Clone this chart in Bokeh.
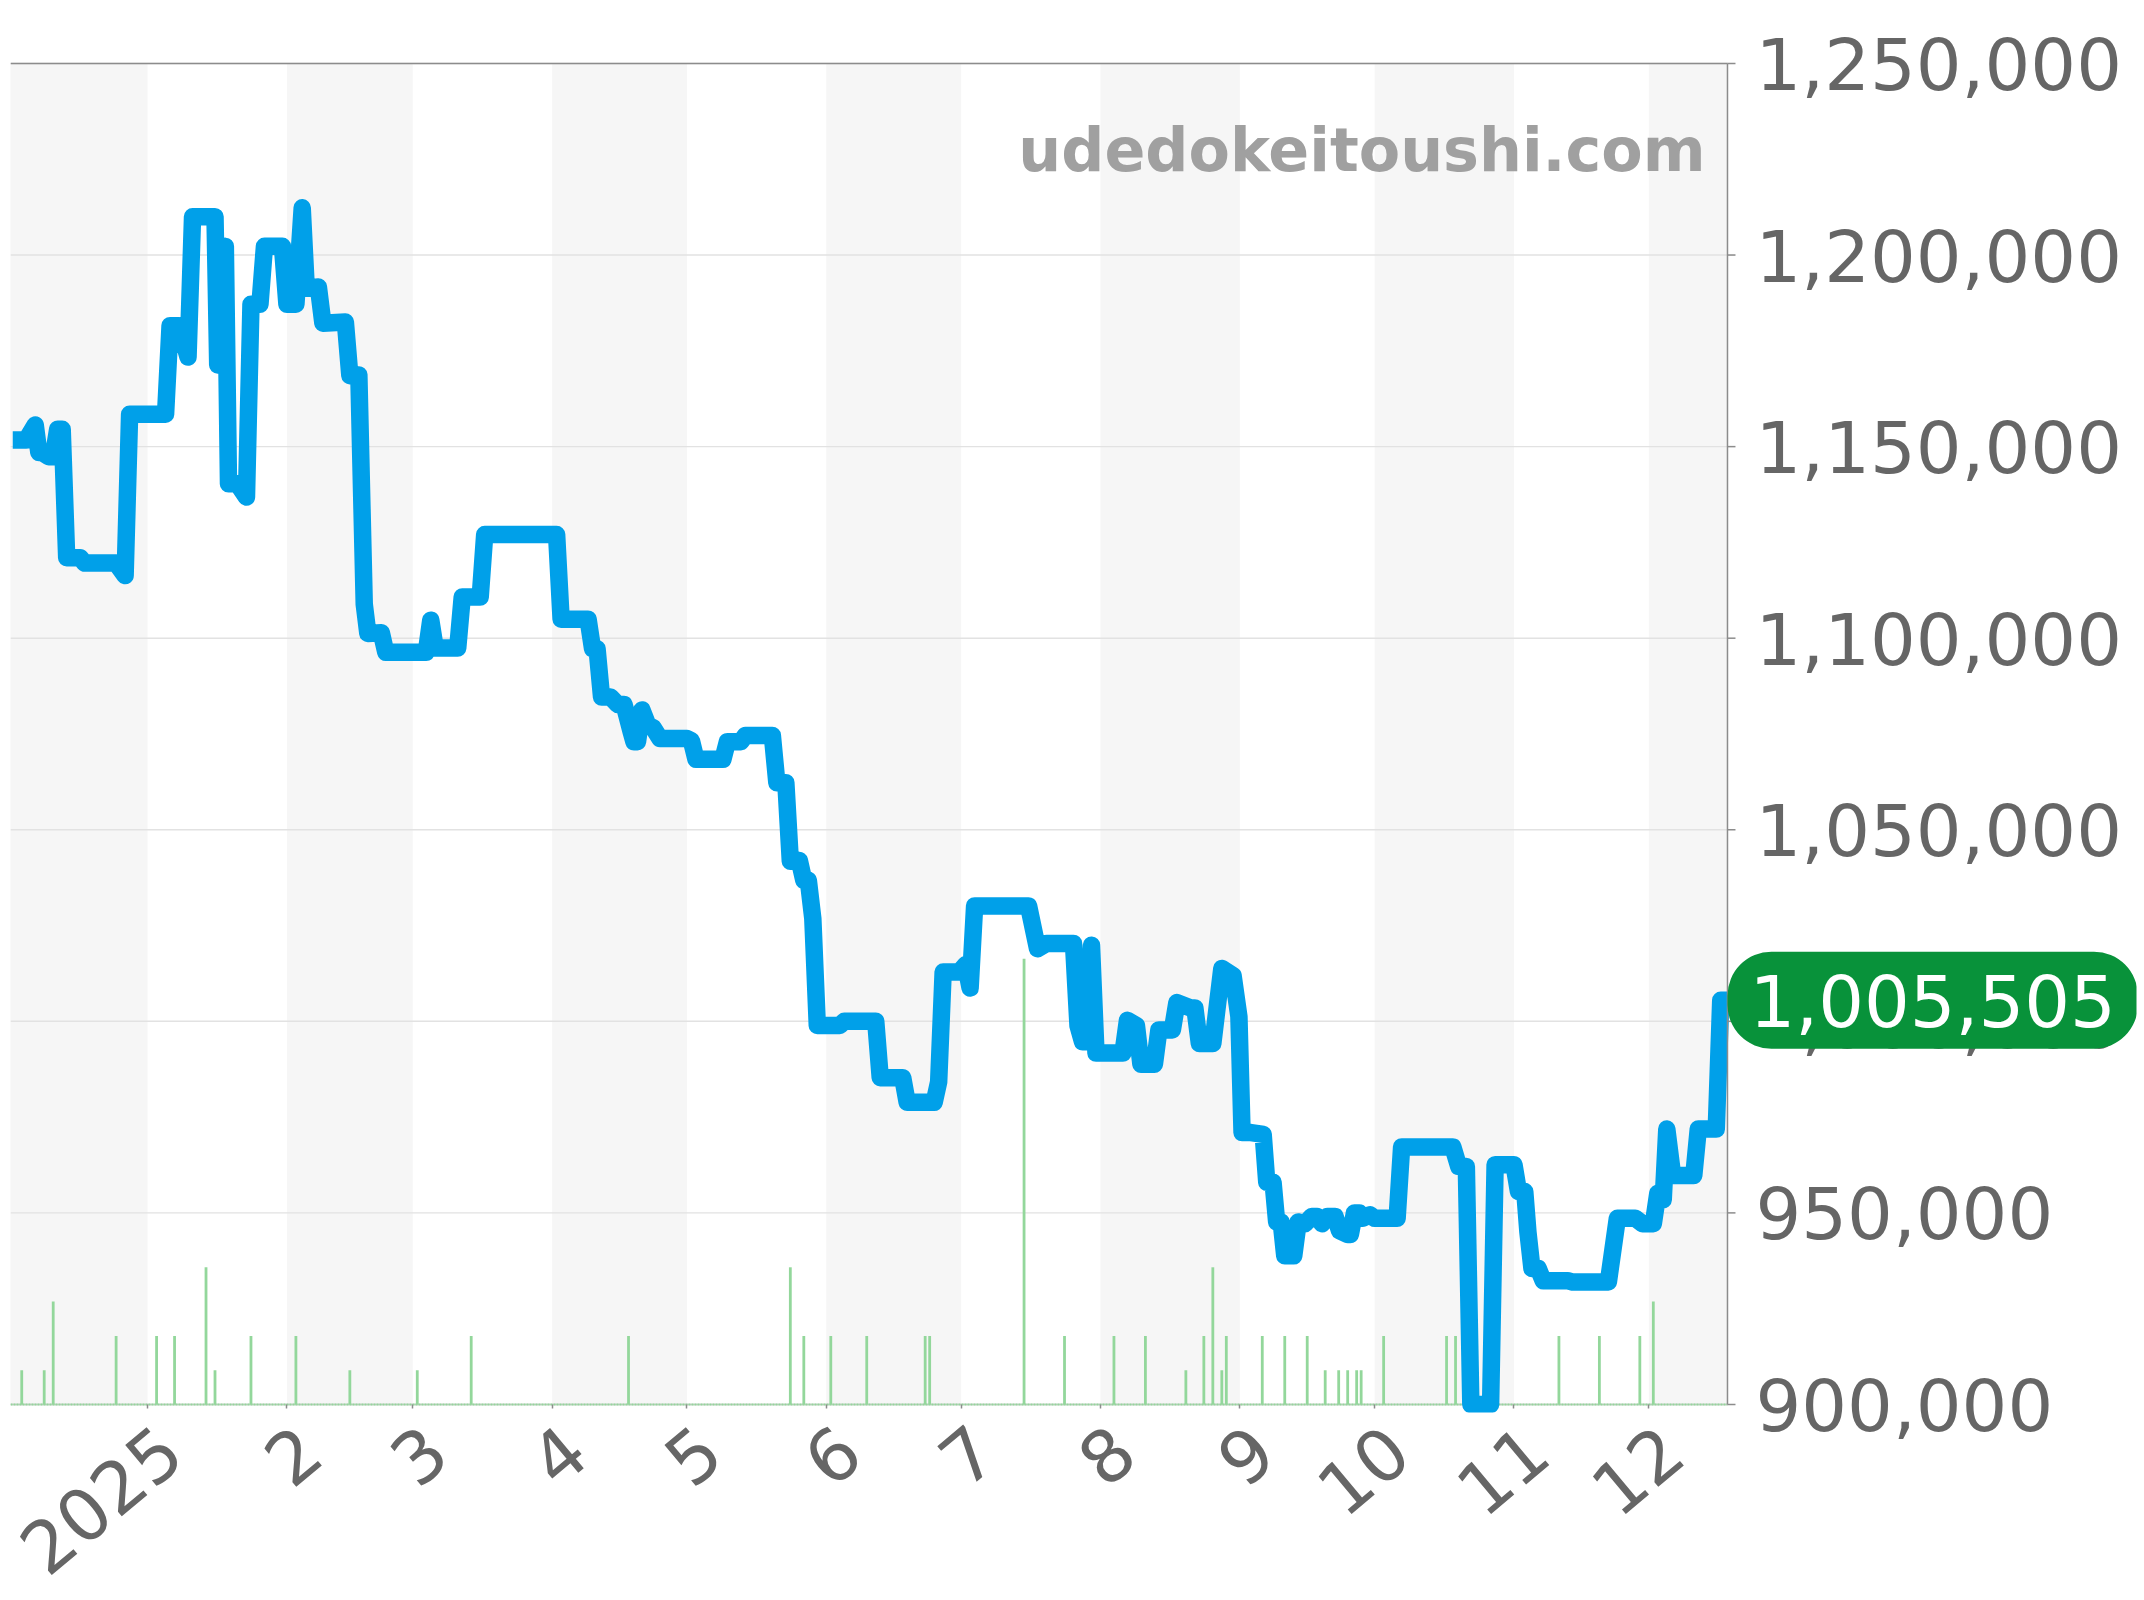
import math
from bokeh.plotting import figure
from bokeh.embed import file_html
from bokeh.resources import INLINE
from bokeh.models import Range1d, LinearAxis, FixedTicker, Label, NumeralTickFormatter

# days counted from 2025-01-01
price_day = [-30, -27, -25, -24.2, -23.5, -22, -21, -20, -19, -18, -15, -14, -7, -5, -4, 4, 5, 7, 9, 10, 15, 15.6,
             17.3, 18, 20, 22, 23, 25, 26, 30, 31, 33, 34.4, 35.3, 38, 39, 44, 45, 47, 48.2, 49, 52, 53, 62, 63, 64,
             69, 70, 74, 75, 91, 92, 98, 99, 100, 101, 103, 104.6, 106, 107.6, 108.2, 109, 110, 111.3, 112.5, 114, 120,
             121, 122, 128, 129, 132, 133, 139, 140, 142, 143, 145, 146, 147, 148, 149, 154, 155, 162, 163, 168, 169,
             175, 176, 177, 180.6, 182, 183, 184, 196, 198, 200, 206, 207, 208, 209, 210, 211, 217, 218,
             220, 221, 224, 225, 228, 229, 232, 233, 234, 237, 239, 241.5, 242.8, 243.5, 245.5, 248.2, 249, 250.4,
             251.2, 252.2, 253, 255, 256, 257.5, 259, 260.2, 261.3, 262.5, 264.2, 265.2, 267, 267.6, 268.5, 269.6,
             270.3, 272, 273, 278, 279, 290.4, 291.7, 293.4, 294.4, 298.8, 299.8, 304, 305, 306.4, 307.1, 308, 309.4, 310.5,
             316, 317, 325, 327, 331, 332.6, 335, 336, 337.2, 338, 339.3, 341.3, 344, 345, 349, 350, 351.5]
price_val = [1151750, 1151750, 1155670, 1148490, 1148490, 1147370, 1147370, 1154550, 1154550, 1121000, 1121000,
             1119600, 1119600, 1116340, 1158460, 1158460, 1181580, 1181580, 1173380, 1210000, 1210000, 1171320,
             1202270, 1140290, 1140290, 1136840, 1187170, 1187170, 1202270, 1202270, 1187170, 1187170, 1212330,
             1191360, 1191640, 1182230, 1182510, 1168530, 1168720, 1108880, 1101250, 1101430, 1096300, 1096300,
             1104680, 1097420, 1097420, 1110745, 1110745, 1127050, 1127050, 1104970, 1104970, 1097230, 1097230,
             1084650, 1084650, 1082700, 1082700, 1075500, 1073000, 1073000, 1081250, 1077300, 1076600, 1073800,
             1073800, 1073200, 1068400, 1068400, 1073000, 1073000, 1074580, 1074580, 1062280, 1062280, 1041780, 1041960,
             1036800, 1036800, 1026860, 998900, 998900, 1000020, 1000020, 985300, 985300, 978850, 978850, 984200,
             1012880, 1012880, 1014750, 1008690, 1030130, 1030130, 1018940, 1020340, 1020340, 998900, 994700, 994700,
             1019880, 991700, 991700, 1000260, 998900, 988800, 988800, 997760, 997760, 1004900, 1003500, 1003500,
             994240, 994240, 1013800, 1011950, 1001230, 970950, 970950, 970480, 958000, 958000, 947640, 947640,
             938800, 938800, 947640, 947180, 949040, 949040, 947180, 949040, 949040, 945320, 944380, 944380, 949970,
             949970, 948580, 949500, 948580, 948580, 967200, 967200, 962090, 962090, 900000, 900000, 962560, 962560,
             955560, 955560, 945000, 935460, 935460, 932270, 932270, 931980, 931980, 948580, 948580, 947180, 947180,
             955100, 953400, 971870, 959760, 959760, 959760, 971870, 971870, 1005505, 1005505]
vol_day = [-28, -23, -21, -7, 2, 6, 13, 15, 23, 33, 45, 60, 72, 107, 143, 146, 152, 160, 173, 174, 195, 204, 215, 222,
           231, 235, 237, 239, 240, 248, 253, 258, 262, 265, 267, 269, 270, 275, 289, 291, 314, 323, 332, 335]
vol_val = [1, 1, 3, 2, 2, 2, 4, 1, 2, 2, 1, 1, 2, 2, 4, 2, 2, 2, 2, 2, 13, 2, 2, 2, 1, 2, 4, 1, 2, 2, 2, 2, 1, 1, 1,
           1, 1, 2, 2, 2, 2, 2, 2, 3]
month_days = [0, 31, 59, 90, 120, 151, 181, 212, 243, 273, 304, 334]
month_labels = ["2025", "2", "3", "4", "5", "6", "7", "8", "9", "10", "11", "12"]
stripe_start = [-31, 31, 90, 151, 212, 273, 334]
stripe_end = [0, 59, 120, 181, 243, 304, 351.5]
y_ticks = [900000, 950000, 1000000, 1050000, 1100000, 1150000, 1200000, 1250000]
last_price = 1005505

X0, X1 = -30.5, 351.5      # the plotted span of days
XR = 442.5                 # the frame goes on to the right so that the price pill can sit over the value labels
Y_MIN, Y_MAX = 900000, 1250000
Y_LOW = 897900             # room under the axis for the thick line at the floor
Y_HIGH = 1250520           # room above, so that the top edge line is not cut in half
LABEL_SHIFT = 5.2
TICK = 1.78
AXIS = "#8c8c8c"

p = figure(frame_width=2126, frame_height=1351, min_border_left=10, min_border_top=61, min_border_right=7,
           min_border_bottom=175, x_range=Range1d(X0, XR), y_range=Range1d(Y_LOW, Y_HIGH), y_axis_location="right",
           output_backend="svg", toolbar_location=None, background_fill_color="white", border_fill_color="white")
p.outline_line_color = None
p.extra_y_ranges = {"vol": Range1d(-0.234, 39.16)}
p.extra_x_ranges = {"lab": Range1d(X0 - LABEL_SHIFT, XR - LABEL_SHIFT)}
p.xgrid.visible = False
p.ygrid.visible = False

p.quad(left=stripe_start, right=stripe_end, bottom=Y_MIN, top=Y_MAX, fill_color="#f6f6f6", line_color=None, level="image")
n = len(y_ticks)
p.segment(x0=[X0] * n, x1=[X1] * n, y0=y_ticks, y1=y_ticks, line_color="#e2e2e2", line_width=1.4, level="underlay")

p.segment(x0=[X0], x1=[X1], y0=[Y_MIN], y1=[Y_MIN], line_color="#cccccc", line_width=1.5)
p.segment(x0=vol_day, x1=vol_day, y0=[0] * len(vol_day), y1=vol_val, y_range_name="vol", line_color="#93d79b", line_width=2.8)
p.segment(x0=[X0], x1=[X1], y0=[0], y1=[0], y_range_name="vol", line_color="#93d79b", line_width=2, line_dash="2 1")

p.line(price_day, price_val, line_color="#00a0e9", line_width=17.5, line_join="round", line_cap="butt")

# frame edges and value ticks
p.segment(x0=[X0], x1=[X1], y0=[Y_MAX], y1=[Y_MAX], line_color=AXIS, line_width=1.5)
p.segment(x0=[X1], x1=[X1], y0=[Y_MIN], y1=[Y_MAX], line_color=AXIS, line_width=1.5)
p.segment(x0=[X1] * n, x1=[X1 + TICK] * n, y0=y_ticks, y1=y_ticks, line_color=AXIS, line_width=1.5)

xa = p.xaxis[0]
xa.ticker = FixedTicker(ticks=month_days)
xa.major_label_text_font_size = "0px"
xa.major_label_text_color = None
xa.major_tick_line_color = AXIS
xa.major_tick_line_width = 1.5
xa.major_tick_in = 8
xa.major_tick_out = -4
xa.minor_tick_line_color = None
xa.axis_line_color = None

xb = LinearAxis(x_range_name="lab")
xb.ticker = FixedTicker(ticks=month_days)
xb.major_label_overrides = dict(zip(month_days, month_labels))
xb.major_label_orientation = math.radians(40)
xb.major_label_text_font = "DejaVu Sans"
xb.major_label_text_font_size = "72px"
xb.major_label_text_color = "#666666"
xb.major_tick_line_color = None
xb.minor_tick_line_color = None
xb.axis_line_color = None
xb.major_label_standoff = 22
p.add_layout(xb, "below")

ya = p.yaxis[0]
ya.ticker = FixedTicker(ticks=y_ticks)
ya.formatter = NumeralTickFormatter(format="0,0")
ya.major_label_text_font = "DejaVu Sans"
ya.major_label_text_font_size = "72px"
ya.major_label_text_color = "#666666"
ya.major_tick_line_color = None
ya.major_tick_in = 0
ya.major_tick_out = 0
ya.minor_tick_line_color = None
ya.axis_line_color = None
ya.major_label_standoff = -381

p.add_layout(Label(x=X1, y=Y_MAX, text="udedokeitoushi.com", text_font="DejaVu Sans", text_font_style="bold",
                   text_font_size="60.3px", text_color="#a0a0a0", text_align="right", text_baseline="alphabetic",
                   x_offset=-22, y_offset=-87))
p.add_layout(Label(x=X1, y=last_price, text=f"{last_price:,}", text_font="DejaVu Sans", text_font_size="72px",
                   text_color="white", text_align="left", text_baseline="middle",
                   background_fill_color="#08923a", padding=(22, 22), border_radius=44, level="overlay"))

open("out.html", "w").write(file_html(p, INLINE))
